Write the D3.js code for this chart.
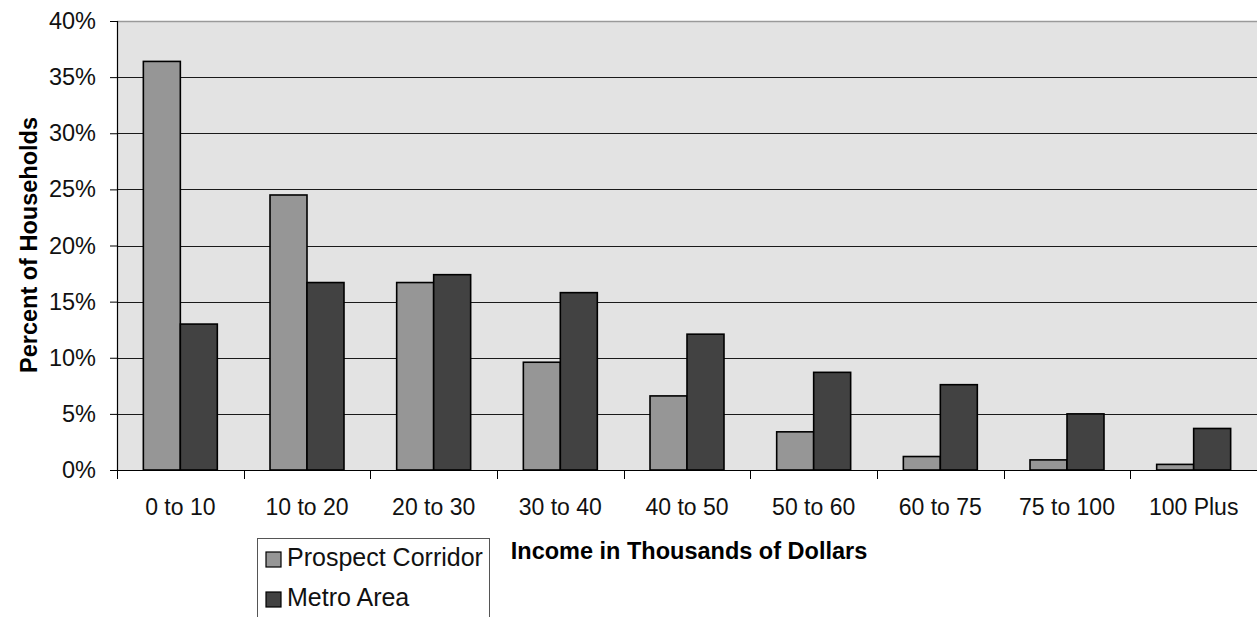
<!DOCTYPE html>
<html>
<head>
<meta charset="utf-8">
<script src="https://cdn.jsdelivr.net/npm/d3@7"></script>
<style>
  html, body { margin: 0; padding: 0; background: #fff; }
  svg { display: block; font-family: Arial, "Liberation Sans", sans-serif; }
</style>
</head>
<body>
<svg id="chart" width="1257" height="617"></svg>
<script>
// Household income distribution, two areas compared
const categories = ["0 to 10", "10 to 20", "20 to 30", "30 to 40", "40 to 50",
                    "50 to 60", "60 to 75", "75 to 100", "100 Plus"];
const seriesNames = ["Prospect Corridor", "Metro Area"];
const prospectCorridor = [36.4, 24.5, 16.7, 9.6, 6.6, 3.4, 1.2, 0.9, 0.5];
const metroArea = [13.0, 16.7, 17.4, 15.8, 12.1, 8.7, 7.6, 5.0, 3.7];
const yTicks = [0, 5, 10, 15, 20, 25, 30, 35, 40];

const colors = { "Prospect Corridor": "#969696", "Metro Area": "#424242" };

const svg = d3.select("#chart");
const plot = { left: 117, right: 1257, top: 21, bottom: 470 };

const x0 = d3.scaleBand()
  .domain(categories)
  .range([plot.left, plot.right])
  .paddingInner(0.416)
  .paddingOuter(0.208);

const x1 = d3.scaleBand()
  .domain(seriesNames)
  .range([0, x0.bandwidth()]);

const y = d3.scaleLinear()
  .domain([0, 40])
  .range([plot.bottom, plot.top]);

// plot background
svg.append("rect")
  .attr("x", plot.left).attr("y", plot.top)
  .attr("width", plot.right - plot.left).attr("height", plot.bottom - plot.top)
  .attr("fill", "#e3e3e3");

// top border of the plot area
svg.append("line")
  .attr("x1", plot.left).attr("x2", plot.right)
  .attr("y1", plot.top + 0.5).attr("y2", plot.top + 0.5)
  .attr("stroke", "#9a9a9a").attr("stroke-width", 1.5);

// horizontal gridlines
svg.append("g")
  .selectAll("line")
  .data(yTicks.filter(t => t > 0 && t < 40))
  .join("line")
  .attr("x1", plot.left).attr("x2", plot.right)
  .attr("y1", d => Math.round(y(d)) + 0.5).attr("y2", d => Math.round(y(d)) + 0.5)
  .attr("stroke", "#1a1a1a").attr("stroke-width", 1);

// bars
const rows = categories.map((c, i) => ({
  category: c,
  values: [
    { name: "Prospect Corridor", value: prospectCorridor[i] },
    { name: "Metro Area", value: metroArea[i] }
  ]
}));

svg.append("g")
  .selectAll("g")
  .data(rows)
  .join("g")
  .attr("transform", d => `translate(${x0(d.category)},0)`)
  .selectAll("rect")
  .data(d => d.values)
  .join("rect")
  .attr("x", d => x1(d.name))
  .attr("y", d => y(d.value))
  .attr("width", x1.bandwidth())
  .attr("height", d => y(0) - y(d.value))
  .attr("fill", d => colors[d.name])
  .attr("stroke", "#000")
  .attr("stroke-width", 1.6);

// y axis
const yAxis = d3.axisLeft(y)
  .tickValues(yTicks)
  .tickFormat(d => d + "%")
  .tickSize(7)
  .tickPadding(14);

const gy = svg.append("g")
  .attr("transform", `translate(${plot.left},0)`)
  .call(yAxis);
gy.select(".domain").attr("stroke", "#000").attr("stroke-width", 1.2);
gy.selectAll(".tick line").attr("stroke", "#000");
gy.selectAll(".tick text")
  .attr("font-size", 23.5).attr("fill", "#111")
  .attr("font-family", "Arial, 'Liberation Sans', sans-serif");

// x axis: ticks sit on the category boundaries
const step = x0.step();
const boundaries = d3.range(categories.length + 1).map(i => plot.left + i * step);
svg.append("line")
  .attr("x1", plot.left).attr("x2", plot.right)
  .attr("y1", plot.bottom + 0.5).attr("y2", plot.bottom + 0.5)
  .attr("stroke", "#000").attr("stroke-width", 1.2);
svg.append("g")
  .selectAll("line")
  .data(boundaries)
  .join("line")
  .attr("x1", d => Math.round(d) + 0.5).attr("x2", d => Math.round(d) + 0.5)
  .attr("y1", plot.bottom).attr("y2", plot.bottom + 9)
  .attr("stroke", "#000");

svg.append("g")
  .selectAll("text")
  .data(categories)
  .join("text")
  .attr("x", d => x0(d) + x0.bandwidth() / 2)
  .attr("y", 515)
  .attr("text-anchor", "middle")
  .attr("font-size", 23)
  .attr("fill", "#111")
  .text(d => d);

// axis titles
svg.append("text")
  .attr("x", 689).attr("y", 559)
  .attr("text-anchor", "middle")
  .attr("font-size", 23.5).attr("font-weight", "bold")
  .attr("fill", "#000")
  .text("Income in Thousands of Dollars");

svg.append("text")
  .attr("transform", "translate(37,245) rotate(-90)")
  .attr("text-anchor", "middle")
  .attr("font-size", 23.5).attr("font-weight", "bold")
  .attr("fill", "#000")
  .text("Percent of Households");

// legend
const legend = svg.append("g");
legend.append("rect")
  .attr("x", 257.5).attr("y", 538.5)
  .attr("width", 232).attr("height", 100)
  .attr("fill", "#fff")
  .attr("stroke", "#555").attr("stroke-width", 1);

const items = legend.selectAll("g.item")
  .data(seriesNames)
  .join("g")
  .attr("class", "item")
  .attr("transform", (d, i) => `translate(266,${552 + i * 40})`);
items.append("rect")
  .attr("width", 15).attr("height", 15)
  .attr("fill", d => colors[d])
  .attr("stroke", "#000").attr("stroke-width", 1.2);
items.append("text")
  .attr("x", 21).attr("y", 14)
  .attr("font-size", 25)
  .attr("fill", "#111")
  .text(d => d);
</script>
</body>
</html>
